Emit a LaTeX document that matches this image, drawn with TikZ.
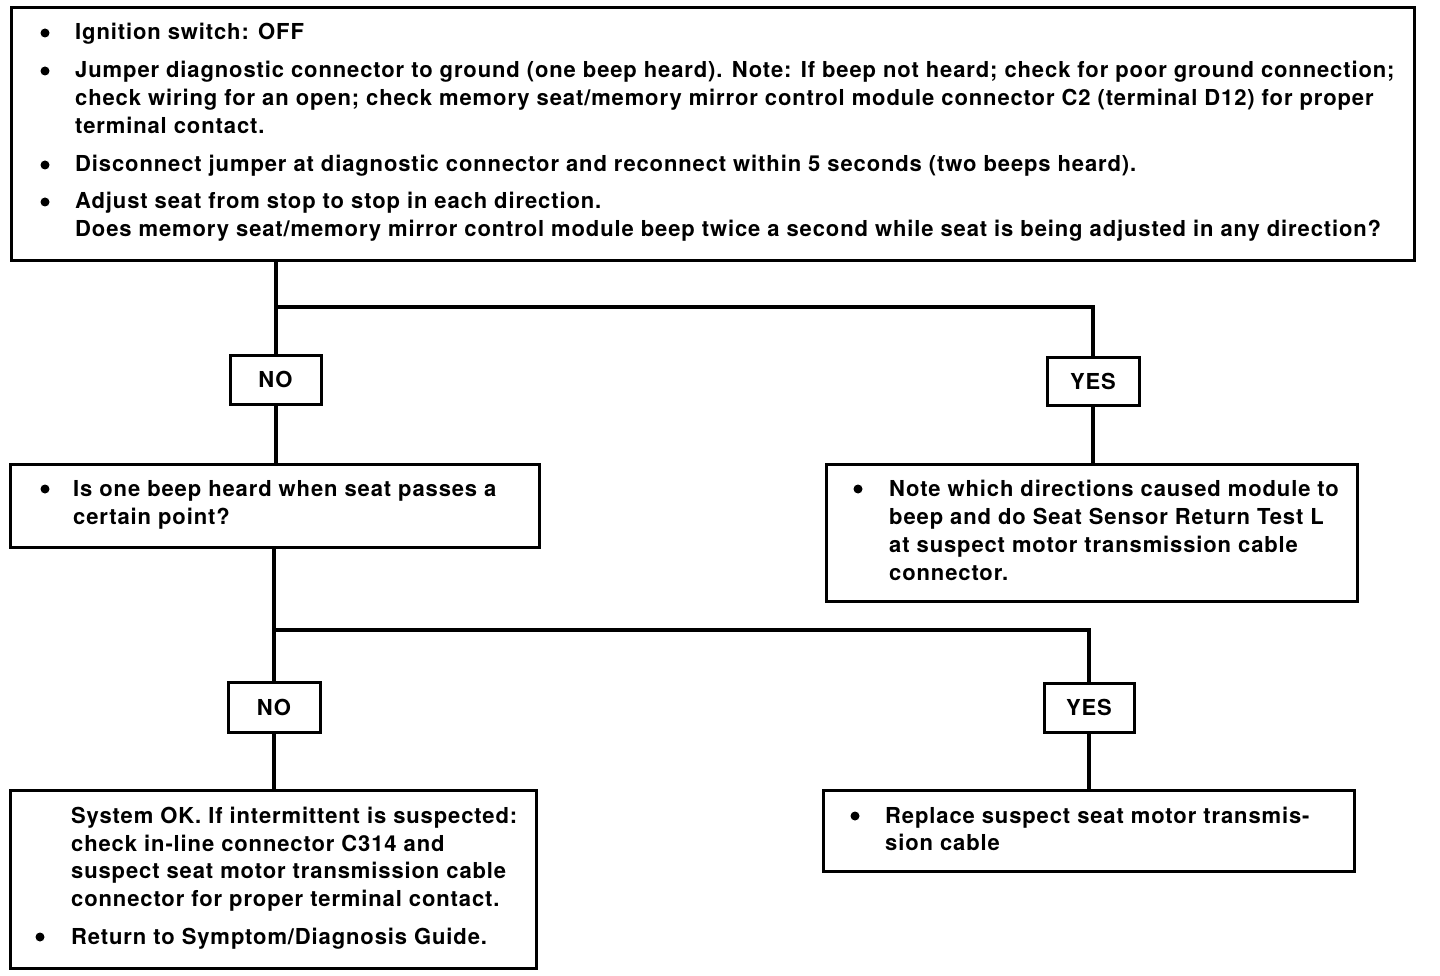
\documentclass[tikz,border=0pt]{standalone}
\usepackage{fontspec}
\setmainfont{TeX Gyre Heros}[LetterSpace=4]
\begin{document}
\begin{tikzpicture}[x=1pt,y=-1pt,
  box/.style={draw, line width=3pt, inner sep=0pt, anchor=north west},
  lab/.style={draw, line width=3pt, inner sep=0pt, font=\fontsize{22}{28}\selectfont\bfseries},
  conn/.style={line width=4pt},
  txt/.style={anchor=base west, inner sep=0pt, font=\fontsize{22}{28}\selectfont\bfseries},
  dot/.style={circle, fill, inner sep=0pt, minimum size=9pt}]
\useasboundingbox (0,0) rectangle (1440,976);

% boxes
\node[box, minimum width=1403pt, minimum height=253pt] (q1) at (10,6) {};
\node[box, minimum width=529pt, minimum height=83pt] (q2) at (9,463) {};
\node[box, minimum width=531pt, minimum height=137pt] (q3) at (825,463) {};
\node[box, minimum width=526pt, minimum height=178pt] (q4) at (9,789) {};
\node[box, minimum width=531pt, minimum height=81pt] (q5) at (822,789) {};

% labels
\node[lab, minimum width=91pt, minimum height=49pt] (no1) at (275.5,379.5) {NO};
\node[lab, minimum width=92pt, minimum height=48pt] (yes1) at (1093,381) {YES};
\node[lab, minimum width=92pt, minimum height=50pt] (no2) at (274,707) {NO};
\node[lab, minimum width=90pt, minimum height=49pt] (yes2) at (1089,707.5) {YES};

% connectors
\coordinate (j1) at (275.5,307);
\coordinate (j2) at (274,630);
\draw[conn] (q1.south -| no1.north) -- (no1.north);
\draw[conn] (j1) -| (yes1.north);
\draw[conn] (no1.south) -- (no1.south |- q2.north);
\draw[conn] (yes1.south) -- (yes1.south |- q3.north);
\draw[conn] (q2.south -| no2.north) -- (no2.north);
\draw[conn] (j2) -| (yes2.north);
\draw[conn] (no2.south) -- (no2.south |- q4.north);
\draw[conn] (yes2.south) -- (yes2.south |- q5.north);

% top box text
\node[dot] (b1) at (45,33) {};
\node[txt] (t1) at (75,40) {Ignition switch: OFF};
\node[dot] (b2) at (45,71) {};
\node[txt] (t2) at (75,78) {Jumper diagnostic connector to ground (one beep heard). Note: If beep not heard; check for poor ground connection;};
\node[txt] (t3) at (75,106) {check wiring for an open; check memory seat/memory mirror control module connector C2 (terminal D12) for proper};
\node[txt] (t4) at (75,134) {terminal contact.};
\node[dot] (b3) at (45,165) {};
\node[txt] (t5) at (75,172) {Disconnect jumper at diagnostic connector and reconnect within 5 seconds (two beeps heard).};
\node[dot] (b4) at (45,202) {};
\node[txt] (t6) at (75,209) {Adjust seat from stop to stop in each direction.};
\node[txt] (t7) at (75,237) {Does memory seat/memory mirror control module beep twice a second while seat is being adjusted in any direction?};

% box 2
\node[dot] (b5) at (45,489) {};
\node[txt] (u1) at (73,496) {Is one beep heard when seat passes a};
\node[txt] (u2) at (73,524) {certain point?};

% box 3
\node[dot] (b6) at (858,489) {};
\node[txt] (v1) at (889,496) {Note which directions caused module to};
\node[txt] (v2) at (889,524) {beep and do Seat Sensor Return Test L};
\node[txt] (v3) at (889,552) {at suspect motor transmission cable};
\node[txt] (v4) at (889,580) {connector.};

% box 4
\node[txt] (w1) at (71,823) {System OK. If intermittent is suspected:};
\node[txt] (w2) at (71,851) {check in-line connector C314 and};
\node[txt] (w3) at (71,878) {suspect seat motor transmission cable};
\node[txt] (w4) at (71,906) {connector for proper terminal contact.};
\node[dot] (b7) at (40,937) {};
\node[txt] (w5) at (71,944) {Return to Symptom/Diagnosis Guide.};

% box 5
\node[dot] (b8) at (855,816) {};
\node[txt] (z1) at (885,823) {Replace suspect seat motor transmis-};
\node[txt] (z2) at (885,850) {sion cable};
\end{tikzpicture}
\end{document}
